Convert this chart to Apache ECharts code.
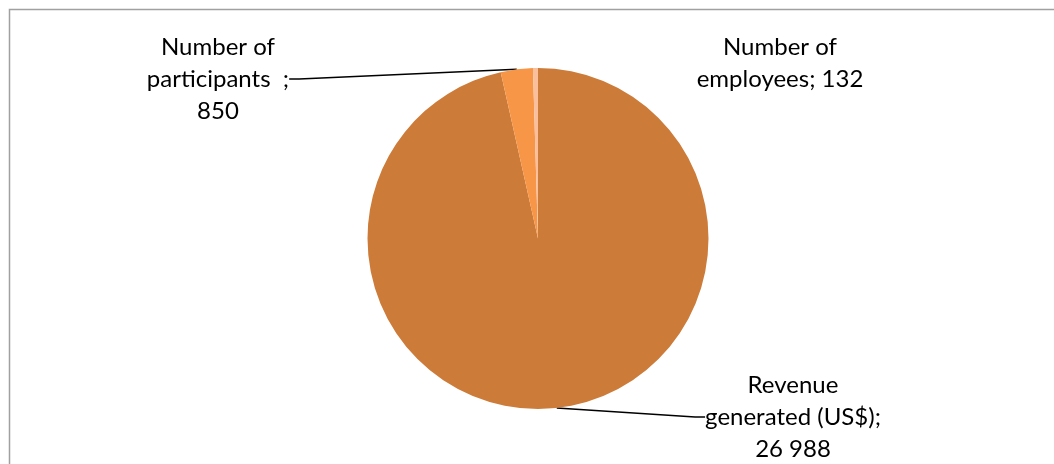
<!DOCTYPE html>
<html><head><meta charset="utf-8">
<script src="https://cdn.jsdelivr.net/npm/echarts@6/dist/echarts.min.js"></script>
<style>html,body{margin:0;padding:0;background:#fff}#c{width:1054px;height:464px}</style>
</head><body><div id="c"></div>
<script>
const categories = ["Revenue\ngenerated (US$)", "Number of\nparticipants  ", "Number of\nemployees"];
const values = [26988, 850, 132];
const colors = ["#CD7B38", "#F79646", "#FABF9D"];
// label anchor positions (text centres) in px
const labelPos = [[793, 417], [218, 79], [780, 63]];

function fmt(v){ return String(v).replace(/\B(?=(\d{3})+(?!\d))/g, " "); }

const chart = echarts.init(document.getElementById('c'));
chart.setOption({
  animation: false,
  graphic: [{type:'rect', shape:{x:9.5,y:9.5,width:1060,height:470}, style:{fill:'none', stroke:'#a0a0a0', lineWidth:1.5}, silent:true}],
  series: [{
    type: 'pie',
    center: [538, 238.5],
    radius: [0, 170.5],
    startAngle: 90,
    clockwise: true,
    data: categories.map((c,i)=>({name:c, value:values[i], itemStyle:{color:colors[i]},
      labelLine:{show: i!==2}})),
    itemStyle:{borderWidth:0},
    label: {
      show: true,
      formatter: p => {
        if (p.dataIndex===2) return p.name + '; ' + fmt(p.value);
        return p.name + ';\n' + fmt(p.value);
      },
      fontFamily: 'Lato', fontSize: 24, lineHeight: 32, color: '#000', align:'center'
    },
    labelLine: { show: true, lineStyle:{color:'#000', width:1.5}, length: 10, length2: 10 },
    labelLayout: function(p){
      const pos = labelPos[p.dataIndex];
      return {x: pos[0], y: pos[1], align:'center', verticalAlign:'middle'};
    }
  }]
});
</script></body></html>
